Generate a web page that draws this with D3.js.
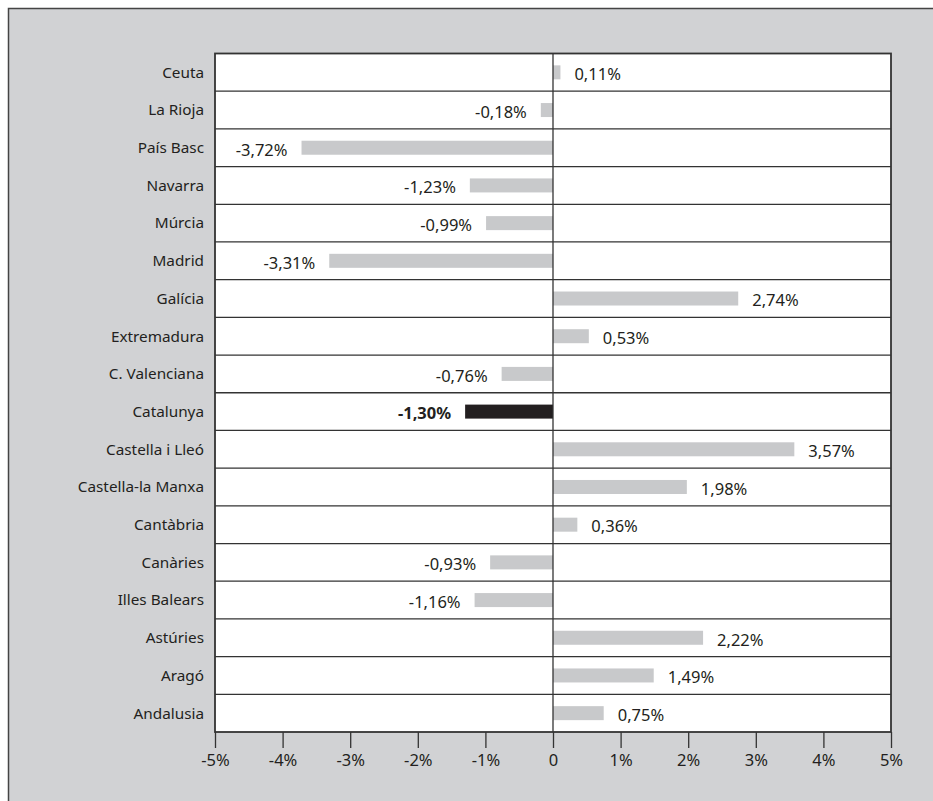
<!DOCTYPE html>
<html>
<head>
<meta charset="utf-8">
<script src="https://cdn.jsdelivr.net/npm/d3@7"></script>
<style>
  html, body { margin: 0; padding: 0; background: #fff; }
  svg { display: block; }
  text { font-family: "Noto Sans", "Open Sans", sans-serif; fill: #231f20; }
</style>
</head>
<body>
<script>
// regions, top to bottom
const regions = ["Ceuta", "La Rioja", "País Basc", "Navarra", "Múrcia", "Madrid", "Galícia",
  "Extremadura", "C. Valenciana", "Catalunya", "Castella i Lleó", "Castella-la Manxa",
  "Cantàbria", "Canàries", "Illes Balears", "Astúries", "Aragó", "Andalusia"];
const values = [0.11, -0.18, -3.72, -1.23, -0.99, -3.31, 2.74, 0.53, -0.76, -1.30,
  3.57, 1.98, 0.36, -0.93, -1.16, 2.22, 1.49, 0.75];
const highlight = "Catalunya";
const ticks = [-5, -4, -3, -2, -1, 0, 1, 2, 3, 4, 5];

const W = 933, H = 801;
const pL = 215, pR = 891, pT = 53.5, pB = 732;

const svg = d3.select("body").append("svg").attr("width", W).attr("height", H);

// grey panel with left/top frame
svg.append("rect").attr("x", 8).attr("y", 8).attr("width", W - 8).attr("height", H - 8).attr("fill", "#d1d2d4");
svg.append("path").attr("d", `M8.5,${H} V8.5 H${W}`).attr("fill", "none").attr("stroke", "#444").attr("stroke-width", 1.5);

const x = d3.scaleLinear().domain([-5, 5]).range([pL, pR]);
const y = d3.scaleBand().domain(regions).range([pT, pB]);

svg.append("rect").attr("x", pL).attr("y", pT).attr("width", pR - pL).attr("height", pB - pT)
  .attr("fill", "#fff");

// row separators
svg.append("g").selectAll("line").data(regions.slice(1)).join("line")
  .attr("x1", pL).attr("x2", pR)
  .attr("y1", d => y(d)).attr("y2", d => y(d))
  .attr("stroke", "#333").attr("stroke-width", 1.3);

// bars
const barH = 14;
const data = regions.map((r, i) => ({ r, v: values[i] }));
svg.append("g").selectAll("rect").data(data).join("rect")
  .attr("x", d => x(Math.min(0, d.v)))
  .attr("width", d => Math.abs(x(d.v) - x(0)))
  .attr("y", d => y(d.r) + y.bandwidth() / 2 - barH / 2)
  .attr("height", barH)
  .attr("fill", d => d.r === highlight ? "#231f20" : "#c8c9cb");

// zero line
svg.append("line").attr("x1", x(0)).attr("x2", x(0)).attr("y1", pT).attr("y2", pB)
  .attr("stroke", "#333").attr("stroke-width", 1.3);

// frame of plot
svg.append("rect").attr("x", pL).attr("y", pT).attr("width", pR - pL).attr("height", pB - pT)
  .attr("fill", "none").attr("stroke", "#333").attr("stroke-width", 1.8);

// value labels
const fmt = v => v.toFixed(2).replace(".", ",") + "%";
svg.append("g").selectAll("text").data(data).join("text")
  .attr("x", d => d.v < 0 ? x(d.v) - 14 : x(d.v) + 14)
  .attr("y", d => y(d.r) + y.bandwidth() / 2 + 2)
  .attr("dy", "0.35em")
  .attr("text-anchor", d => d.v < 0 ? "end" : "start")
  .attr("font-size", 16.5)
  .attr("font-weight", d => d.r === highlight ? "bold" : "normal")
  .text(d => fmt(d.v));

// category axis labels
svg.append("g").selectAll("text").data(regions).join("text")
  .attr("x", pL - 11)
  .attr("y", d => y(d) + y.bandwidth() / 2)
  .attr("dy", "0.35em")
  .attr("text-anchor", "end")
  .attr("font-size", 15.3)
  .text(d => d);

// x axis
const xAxis = d3.axisBottom(x).tickValues(ticks).tickSize(16).tickPadding(6)
  .tickFormat(d => d === 0 ? "0" : d + "%");
const gx = svg.append("g").attr("transform", `translate(0,${pB})`).call(xAxis);
gx.select(".domain").remove();
gx.selectAll("line").attr("stroke", "#333").attr("stroke-width", 1.3);
gx.selectAll("text").attr("font-size", 16.5).attr("fill", "#231f20")
  .style("font-family", "'Noto Sans', 'Open Sans', sans-serif");
</script>
</body>
</html>
